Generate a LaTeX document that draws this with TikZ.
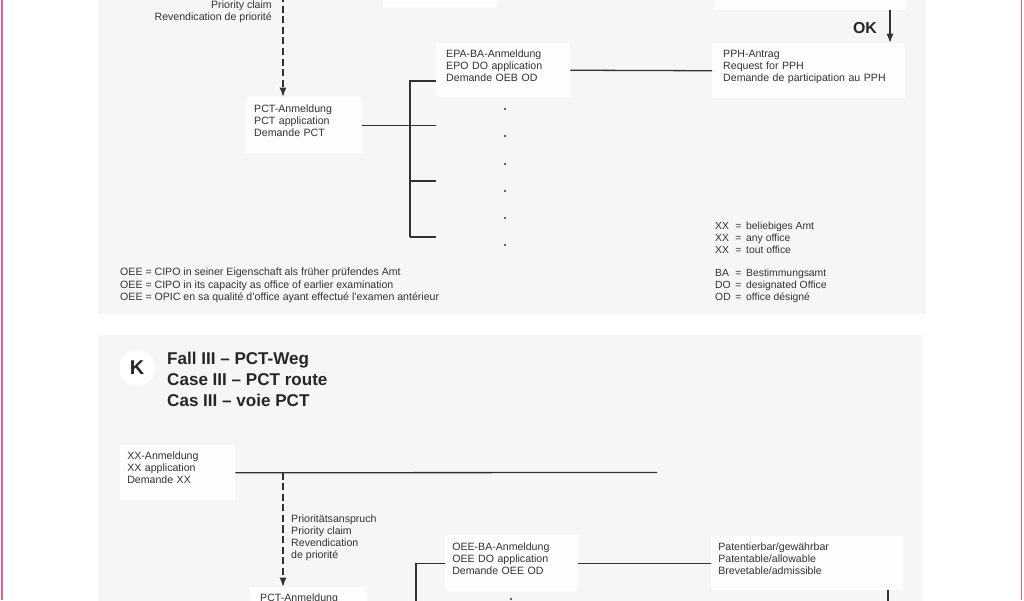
\documentclass[tikz,border=0pt]{standalone}
\usepackage{fontspec}
\setmainfont{Liberation Sans}
\usepackage{tikz}
\usetikzlibrary{arrows.meta,positioning}

\definecolor{pinkrule}{RGB}{226,96,154}
\definecolor{panelgray}{RGB}{246,246,246}
\definecolor{boxwhite}{RGB}{253,253,253}
\definecolor{inkgray}{RGB}{50,50,50}

\begin{document}
\begin{tikzpicture}[
    x=0.85pt, y=-0.85pt,
    box/.style={rectangle, fill=boxwhite, anchor=north west, align=left, inner ysep=0pt, text=inkgray, font=\fontsize{9}{10.2}\selectfont, execute at end node={\rule[-8.5pt]{0pt}{0pt}}},
    emptybox/.style={rectangle, fill=boxwhite, anchor=north west, inner sep=0pt},
    textblock/.style={inner sep=0pt, align=left, text=inkgray, font=\fontsize{9}{10.2}\selectfont},
    headline/.style={inner sep=0pt, align=left, text=black!85, font=\fontsize{14.5}{17.9}\selectfont\bfseries},
    wire/.style={draw=inkgray, line width=1.1pt},
    arrow/.style={wire, -{Latex[length=8pt,width=6pt]}},
    dasharrow/.style={arrow, line width=1.3pt, dash pattern=on 6pt off 3pt}
]
    \useasboundingbox (0,0) rectangle (1024,600);
    \clip (0,0) rectangle (1024,600);

    % Background
    \fill[panelgray] (98,-5) rectangle (926,314);
    \fill[panelgray] (98,335) rectangle (923,610);
    \draw[pinkrule, line width=1.6pt] (2,0) -- (2,600);
    \draw[pinkrule, line width=1.6pt] (1021.5,0) -- (1021.5,600);

    % Nodes, upper case
    \node[emptybox, minimum width=97.75pt, minimum height=57pt] (prevEpo) at (383,-60) {};
    \node[emptybox, minimum width=162.4pt, minimum height=59.5pt] (prevPph) at (715,-60) {};
    \node[textblock, align=right, anchor=north east] (prioTop) at (272,1) {Priority claim\\Revendication de priorité};
    \node[box, inner xsep=6.8pt, text width=85pt, minimum height=47.6pt] (pct) at (246,97) {PCT-Anmeldung\\PCT application\\Demande PCT};
    \node[box, inner xsep=8.5pt, text width=96.9pt, minimum height=45.9pt] (epa) at (436,43) {EPA-BA-Anmeldung\\EPO DO application\\Demande OEB OD};
    \node[box, inner xsep=9.35pt, text width=145.3pt, minimum height=46.75pt] (pph) at (712,43) {PPH-Antrag\\Request for PPH\\Demande de participation au PPH};
    \node[inner sep=0pt, text=black!85, font=\fontsize{13.5}{16}\selectfont\bfseries] (ok) at (865,28) {OK};

    % Legends
    \node[textblock, anchor=north west, font=\fontsize{9}{10.6}\selectfont] (oeeLegend) at (120,268) {OEE = CIPO in seiner Eigenschaft als früher prüfendes Amt\\OEE = CIPO in its capacity as office of earlier examination\\OEE = OPIC en sa qualité d’office ayant effectué l’examen antérieur};
    \node[textblock, anchor=north west, font=\fontsize{8.8}{10.2}\selectfont] (abbrLegend) at (715,221) {%
        \begin{tabular}{@{}l@{\hspace{4pt}}c@{\hspace{4pt}}l@{}}
        XX & = & beliebiges Amt\\
        XX & = & any office\\
        XX & = & tout office\\[9pt]
        BA & = & Bestimmungsamt\\
        DO & = & designated Office\\
        OD & = & office désigné
        \end{tabular}};

    % Nodes, lower case
    \node[circle, fill=white, minimum size=30.6pt, inner sep=0pt, text=black!85, font=\fontsize{17}{20}\selectfont\bfseries] (kMark) at (137,368) {K};
    \node[headline, anchor=north west] (caseTitle) at (167,352) {Fall III – PCT-Weg\\Case III – PCT route\\Cas III – voie PCT};
    \node[box, inner xsep=6pt, text width=85.75pt, minimum height=46.75pt] (xx) at (120,445) {XX-Anmeldung\\XX application\\Demande XX};
    \node[textblock, anchor=north west] (prioBottom) at (291,515) {Prioritätsanspruch\\Priority claim\\Revendication\\de priorité};
    \node[box, inner xsep=6pt, text width=101pt, minimum height=47.6pt] (oee) at (445,535) {OEE-BA-Anmeldung\\OEE DO application\\Demande OEE OD};
    \node[box, inner xsep=6pt, text width=151pt, minimum height=45.9pt] (pat) at (711,536) {Patentierbar/gewährbar\\Patentable/allowable\\Brevetable/admissible};
    \node[box, inner xsep=8.5pt, text width=82.5pt, minimum height=45.9pt] (pct2) at (250,587) {PCT-Anmeldung\\PCT application\\Demande PCT};

    % Free ends
    \coordinate (prioSrc) at (283,-5);
    \coordinate (okX) at (890,0);
    \coordinate (brkTop) at (410,81);
    \coordinate (brkMid) at (410,181);
    \coordinate (brkBot) at (410,237);
    \coordinate (xxEnd) at (657,472.5);
    \coordinate (prioSrc2) at (283,472.5);
    \coordinate (brk2Bot) at (416,620);
    \coordinate (patOut) at (888,620);

    % Arrows, upper case
    \draw[dasharrow] (prioSrc) -- (prioSrc |- pct.north);
    \draw[arrow] (prevPph.south -| okX) -- (pph.north -| okX);
    \draw[wire] (brkBot) -- (brkTop) -- (epa.west |- brkTop);
    \draw[wire] (pct.east) -- (pct.east -| epa.west);
    \draw[wire] (brkMid) -- (brkMid -| epa.west);
    \draw[wire] (brkBot) -- (brkBot -| epa.west);
    \draw[wire] (epa.east) -- (pph.west);
    \fill[inkgray] (505,109) circle (0.9pt) (505,136) circle (0.9pt) (505,164) circle (0.9pt)
        (505,191) circle (0.9pt) (505,218) circle (0.9pt) (505,245) circle (0.9pt);

    % Arrows, lower case
    \draw[wire] (xx.east) -- (xxEnd);
    \draw[dasharrow] (prioSrc2) -- (prioSrc2 |- pct2.north);
    \draw[wire] (brk2Bot) -- (brk2Bot |- oee.west) -- (oee.west);
    \draw[wire] (oee.east) -- (pat.west);
    \draw[arrow] (pat.south -| patOut) -- (patOut);
    \fill[inkgray] (511,599) circle (0.9pt);

\end{tikzpicture}
\end{document}
